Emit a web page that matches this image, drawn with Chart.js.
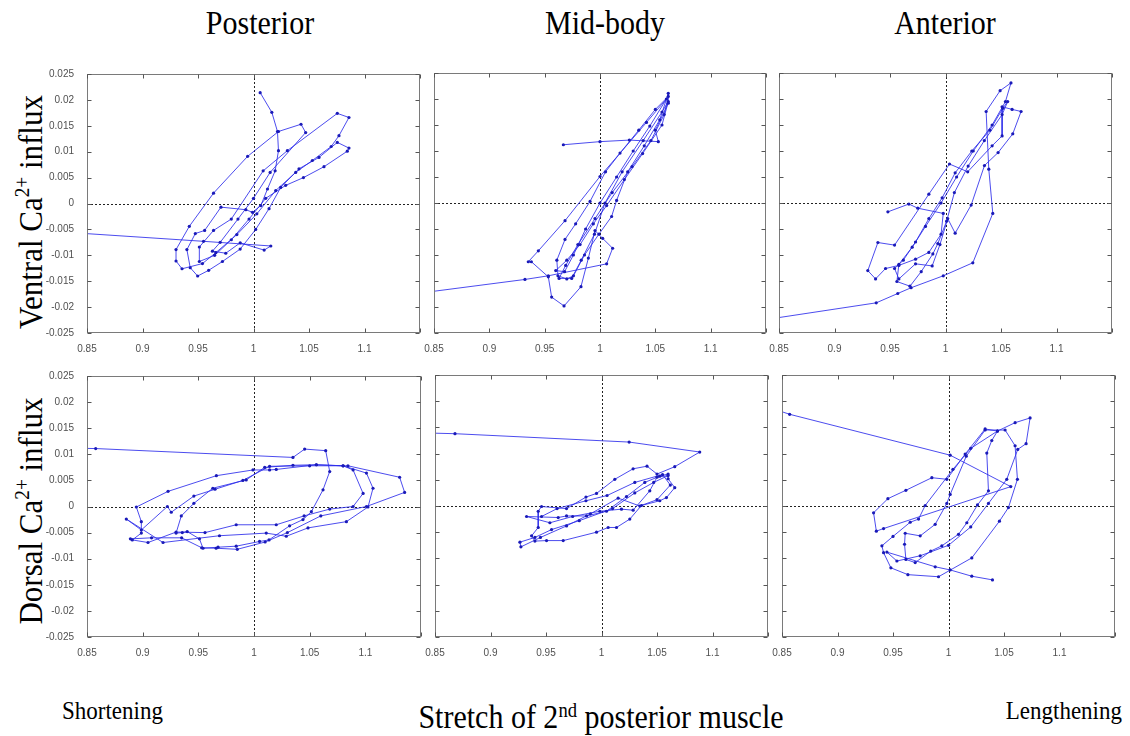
<!DOCTYPE html>
<html>
<head>
<meta charset="utf-8">
<script src="https://cdn.jsdelivr.net/npm/chart.js@4.4.1/dist/chart.umd.min.js"></script>
<style>
  body { margin: 0; background: #fff; }
  #page { position: relative; width: 1130px; height: 736px; overflow: hidden;
          font-family: "Liberation Serif", "Times New Roman", serif; color: #000; }
  canvas { position: absolute; }
  .txt { position: absolute; white-space: nowrap; line-height: 1; }
  .txt sup { font-size: 62%; vertical-align: 0; position: relative; top: -0.55em; }
  .mid { transform: translateX(-50%) scaleY(1.13); }
  .tall { transform: scaleY(1.13); }
  .rot { transform: translate(-50%, -50%) rotate(-90deg) scaleY(1.1); }
</style>
</head>
<body>
<div id="page">
  <div class="txt mid" style="left:260px; top:8px; font-size:30px">Posterior</div>
  <div class="txt mid" style="left:605px; top:8px; font-size:30px">Mid-body</div>
  <div class="txt mid" style="left:945px; top:8px; font-size:30px">Anterior</div>

  <div class="txt rot" style="left:30px; top:212px; font-size:31px">Ventral Ca<sup>2+</sup> influx</div>
  <div class="txt rot" style="left:30px; top:511px; font-size:31px">Dorsal Ca<sup>2+</sup> influx</div>

  <div class="txt tall" style="left:62px; top:699px; font-size:23px">Shortening</div>
  <div class="txt mid" style="left:601px; top:702px; font-size:30px">Stretch of 2<sup>nd</sup> posterior muscle</div>
  <div class="txt tall" style="right:8px; top:699px; font-size:23px">Lengthening</div>
</div>

<script>
// stretch (x) vs Ca2+ influx (y) trajectories, one per panel
const ventralPosterior = [
  [1.0060, 0.0214], [1.0165, 0.0176], [1.0216, 0.0139], [1.0225, 0.0102], [1.0195, 0.0063],
  [1.0126, 0.0028], [1.0066, -0.0004], [0.9991, -0.0017], [0.9931, -0.0012], [0.9707, -0.0007],
  [0.9560, -0.0052], [0.9476, -0.0058], [0.9400, -0.0089], [0.9430, -0.0124], [0.9497, -0.0140],
  [0.9596, -0.0129], [0.9720, -0.0112], [0.9880, -0.0088], [1.0020, -0.0050], [1.0140, -0.0010],
  [1.0245, 0.0031], [1.0410, 0.0067], [1.0590, 0.0089], [1.0755, 0.0118], [1.0860, 0.0107],
  [1.0845, 0.0101], [1.0635, 0.0071], [1.0450, 0.0050], [1.0290, 0.0035], [1.0110, 0.0010],
  [0.9960, -0.0030], [0.9800, -0.0070], [0.9650, -0.0100], [0.9512, -0.0112], [0.9512, -0.0084],
  [0.9640, -0.0052], [0.9800, -0.0030], [1.0087, 0.0063], [1.0305, 0.0102], [1.0755, 0.0174],
  [1.0860, 0.0166], [1.0770, 0.0131], [1.0700, 0.0110], [1.0530, 0.0083], [1.0380, 0.0060],
  [1.0200, 0.0025], [1.0030, -0.0020], [0.9850, -0.0060], [0.9660, -0.0095], [0.9540, -0.0116],
  [0.9356, -0.0126], [0.9302, -0.0111], [0.9302, -0.0089], [0.9422, -0.0044], [0.9640, 0.0020],
  [0.9947, 0.0091], [1.0225, 0.0139], [1.0428, 0.0153], [1.0470, 0.0137], [1.0150, 0.0060],
  [1.0000, 0.0010], [0.9860, -0.0030], [0.9700, -0.0075], [0.9630, -0.0092], [0.9750, -0.0096],
  [0.9880, -0.0076], [1.0096, -0.0090], [1.0156, -0.0082], [0.9550, -0.0073], [0.8200, -0.0054]
];

const ventralMidbody = [
  [0.9669, 0.0112], [1.0000, 0.0118], [1.0265, 0.0121], [1.0527, 0.0118], [1.0500, 0.0140],
  [1.0617, 0.0192], [1.0617, 0.0211], [1.0540, 0.0160], [1.0400, 0.0110], [1.0250, 0.0060],
  [1.0150, 0.0005], [1.0105, -0.0026], [0.9990, -0.0060], [0.9860, -0.0100], [0.9760, -0.0140],
  [0.9700, -0.0146], [0.9620, -0.0140], [0.9610, -0.0110], [0.9684, -0.0070], [0.9780, -0.0040],
  [0.9910, 0.0003], [1.0050, 0.0060], [1.0181, 0.0096], [1.0350, 0.0140], [1.0500, 0.0180],
  [1.0617, 0.0205], [1.0580, 0.0170], [1.0460, 0.0120], [1.0290, 0.0070], [1.0110, 0.0020],
  [0.9955, -0.0030], [0.9800, -0.0080], [0.9690, -0.0120], [0.9630, -0.0145], [0.9744, -0.0145],
  [0.9830, -0.0110], [0.9950, -0.0060], [1.0045, 0.0000], [1.0200, 0.0060], [1.0390, 0.0120],
  [1.0560, 0.0175], [1.0617, 0.0195], [1.0560, 0.0150], [1.0385, 0.0095], [1.0220, 0.0045],
  [1.0060, -0.0005], [0.9940, -0.0040], [0.9820, -0.0080], [0.9700, -0.0110], [0.9600, -0.0130],
  [0.9680, -0.0132], [0.9760, -0.0100], [0.9870, -0.0050], [1.0000, 0.0000], [1.0150, 0.0050],
  [1.0300, 0.0100], [1.0450, 0.0148], [1.0600, 0.0200], [1.0420, 0.0155], [1.0000, 0.0051],
  [0.9684, -0.0034], [0.9443, -0.0092], [0.9352, -0.0113], [0.9380, -0.0113], [0.9533, -0.0142],
  [0.9563, -0.0181], [0.9675, -0.0198], [0.9828, -0.0161], [0.9895, -0.0106], [0.9955, -0.0053],
  [1.0024, -0.0068], [1.0114, -0.0087], [1.0060, -0.0117], [0.9533, -0.0140], [0.9322, -0.0147],
  [0.8200, -0.0178]
];

const ventralAnterior = [
  [0.8200, -0.0230], [0.9376, -0.0192], [0.9570, -0.0174], [0.9690, -0.0163], [0.9980, -0.0140],
  [1.0246, -0.0115], [1.0426, -0.0020], [1.0390, 0.0065], [1.0366, 0.0176], [1.0492, 0.0216],
  [1.0590, 0.0231], [1.0540, 0.0195], [1.0420, 0.0150], [1.0250, 0.0100], [1.0100, 0.0050],
  [0.9960, 0.0000], [0.9820, -0.0045], [0.9700, -0.0085], [0.9580, -0.0118], [0.9562, -0.0151],
  [0.9680, -0.0160], [0.9781, -0.0132], [0.9886, -0.0098], [0.9931, -0.0078], [1.0010, -0.0035],
  [1.0080, 0.0020], [1.0204, 0.0071], [1.0350, 0.0120], [1.0510, 0.0170], [1.0560, 0.0195],
  [1.0516, 0.0182], [1.0400, 0.0140], [1.0237, 0.0100], [1.0087, 0.0058], [0.9970, 0.0010],
  [0.9850, -0.0030], [0.9730, -0.0075], [0.9620, -0.0110], [0.9541, -0.0126], [0.9580, -0.0146],
  [0.9730, -0.0117], [0.9880, -0.0121], [0.9950, -0.0080], [1.0020, -0.0030], [1.0087, -0.0058],
  [1.0231, -0.0004], [1.0351, 0.0072], [1.0474, 0.0097], [1.0606, 0.0133], [1.0681, 0.0176],
  [1.0600, 0.0180], [1.0510, 0.0185], [1.0510, 0.0129], [1.0420, 0.0110], [1.0200, 0.0060],
  [1.0036, 0.0075], [0.9850, 0.0017], [0.9541, -0.0081], [0.9391, -0.0076], [0.9300, -0.0130],
  [0.9370, -0.0146], [0.9460, -0.0126], [0.9580, -0.0120], [0.9730, -0.0108], [0.9850, -0.0095],
  [0.9960, -0.0060], [0.9980, -0.0020], [0.9750, -0.0010], [0.9670, -0.0002], [0.9481, -0.0017]
];

const dorsalPosterior = [
  [0.8300, 0.0112], [0.8578, 0.0111], [1.0350, 0.0094], [1.0455, 0.0110], [1.0644, 0.0107],
  [1.0680, 0.0067], [1.0620, 0.0032], [1.0515, -0.0010], [1.0440, -0.0025], [1.0320, -0.0037],
  [1.0135, -0.0064], [1.0050, -0.0067], [0.9840, -0.0076], [0.9677, -0.0078], [0.9542, -0.0080],
  [0.9510, -0.0062], [0.9400, -0.0048], [0.9356, -0.0050], [0.9300, -0.0051], [0.9347, -0.0018],
  [0.9460, 0.0006], [0.9630, 0.0035], [0.9930, 0.0051], [1.0096, 0.0075], [1.0350, 0.0079],
  [1.0560, 0.0080], [1.0800, 0.0078], [1.0890, 0.0070], [1.0980, 0.0025], [1.0890, 0.0000],
  [1.0680, -0.0005], [1.0450, -0.0018], [1.0200, -0.0035], [0.9840, -0.0035], [0.9560, -0.0050],
  [0.9300, -0.0049], [0.9048, -0.0069], [0.8907, -0.0064], [0.8988, -0.0051], [0.8988, -0.0029],
  [0.8943, -0.0001], [0.9228, 0.0029], [0.9662, 0.0059], [0.9991, 0.0070], [1.0140, 0.0070],
  [1.0200, 0.0071], [1.0560, 0.0080], [1.0800, 0.0078], [1.1010, 0.0064], [1.1069, 0.0035],
  [1.1024, -0.0001], [1.0830, -0.0029], [1.0485, -0.0041], [1.0290, -0.0057], [1.0110, -0.0051],
  [0.9690, -0.0056], [0.9183, -0.0069], [0.8853, -0.0024], [0.8988, -0.0045], [0.9222, 0.0000],
  [0.9257, -0.0011], [0.9460, 0.0020], [0.9650, 0.0033], [0.9900, 0.0050], [1.0140, 0.0077],
  [1.0500, 0.0078], [1.0844, 0.0078], [1.1308, 0.0056], [1.1353, 0.0027], [1.1010, 0.0000],
  [1.0600, -0.0018], [1.0300, -0.0050], [1.0100, -0.0068], [0.9850, -0.0082], [0.9660, -0.0080],
  [0.9530, -0.0079], [0.9350, -0.0060], [0.9080, -0.0060], [0.8890, -0.0062]
];

const dorsalMidbody = [
  [0.8300, 0.0140], [0.8680, 0.0138], [1.0249, 0.0122], [1.0885, 0.0103], [1.0660, 0.0075],
  [1.0500, 0.0061], [1.0410, 0.0076], [1.0285, 0.0071], [1.0120, 0.0051], [0.9955, 0.0024],
  [0.9860, 0.0017], [0.9685, -0.0005], [0.9460, -0.0001], [0.9430, -0.0010], [0.9430, -0.0041],
  [0.9370, -0.0057], [0.9400, -0.0067], [0.9505, -0.0066], [0.9655, -0.0066], [0.9955, -0.0050],
  [1.0060, -0.0041], [1.0135, -0.0041], [1.0255, -0.0025], [1.0360, 0.0001], [1.0525, 0.0010],
  [1.0585, 0.0016], [1.0660, 0.0035], [1.0600, 0.0052], [1.0600, 0.0061], [1.0525, 0.0057],
  [1.0390, 0.0045], [1.0225, 0.0018], [1.0045, -0.0010], [0.9865, -0.0019], [0.9685, -0.0019],
  [0.9610, -0.0022], [0.9325, -0.0020], [0.9535, -0.0032], [0.9740, -0.0020], [0.9985, -0.0010],
  [1.0180, -0.0006], [1.0285, -0.0008], [1.0435, 0.0029], [1.0500, 0.0055], [1.0600, 0.0058],
  [1.0470, 0.0045], [1.0300, 0.0025], [1.0100, -0.0005], [0.9800, -0.0028], [0.9550, -0.0045],
  [0.9400, -0.0060], [0.9265, -0.0069], [0.9274, -0.0078], [0.9450, -0.0060], [0.9685, -0.0038],
  [0.9900, -0.0015], [1.0150, 0.0015], [1.0345, 0.0000], [1.0500, 0.0012], [1.0620, 0.0040],
  [1.0550, 0.0060], [1.0300, 0.0045], [1.0050, 0.0020], [0.9860, 0.0010], [0.9600, -0.0005],
  [0.9460, -0.0020]
];

const dorsalAnterior = [
  [0.8300, 0.0194], [0.8569, 0.0175], [1.0015, 0.0097], [1.0561, 0.0037], [0.9415, -0.0043],
  [0.9350, -0.0048], [0.9325, -0.0013], [0.9454, 0.0014], [0.9616, 0.0030], [0.9850, 0.0054],
  [0.9985, 0.0051], [1.0150, 0.0099], [1.0330, 0.0147], [1.0441, 0.0143], [1.0390, 0.0125],
  [1.0345, 0.0101], [1.0360, 0.0029], [1.0261, 0.0002], [1.0165, -0.0032], [1.0090, -0.0054],
  [0.9940, -0.0076], [0.9840, -0.0086], [0.9700, -0.0108], [0.9616, -0.0102], [0.9604, -0.0073],
  [0.9610, -0.0052], [0.9745, -0.0057], [0.9880, -0.0035], [0.9985, 0.0005], [1.0015, 0.0022],
  [1.0160, 0.0095], [1.0330, 0.0145], [1.0510, 0.0145], [1.0600, 0.0115], [1.0621, 0.0051],
  [1.0540, -0.0003], [1.0459, -0.0029], [1.0210, -0.0099], [0.9910, -0.0135], [0.9634, -0.0131],
  [0.9481, -0.0118], [0.9415, -0.0089], [0.9400, -0.0076], [0.9500, -0.0058], [0.9655, -0.0031],
  [0.9730, -0.0025], [0.9790, 0.0001], [1.0040, 0.0070], [1.0200, 0.0110], [1.0441, 0.0143],
  [1.0600, 0.0159], [1.0735, 0.0168], [1.0699, 0.0119], [1.0624, 0.0108], [1.0525, 0.0051],
  [1.0360, 0.0005], [1.0200, -0.0040], [1.0000, -0.0075], [0.9745, -0.0095], [0.9535, -0.0105],
  [0.9445, -0.0088], [0.9880, -0.0116], [1.0015, -0.0122], [1.0210, -0.0134], [1.0396, -0.0141]
];

// axis ticks and their labels
const stretchTicks = [0.85, 0.9, 0.95, 1, 1.05, 1.1, 1.15];
const stretchLabels = ['0.85', '0.9', '0.95', '1', '1.05', '1.1', ''];
const caTicks = [-0.025, -0.02, -0.015, -0.01, -0.005, 0, 0.005, 0.01, 0.015, 0.02, 0.025];
const caLabels = ['-0.025', '-0.02', '-0.015', '-0.01', '-0.005', '0', '0.005', '0.01', '0.015', '0.02', '0.025'];

// plot boxes [left, top, right, bottom] in page pixels
const panels = [
  { data: ventralPosterior, box: [87, 73, 420, 333], col: 0 },
  { data: ventralMidbody,   box: [434, 73, 766, 333], col: 1 },
  { data: ventralAnterior,  box: [779, 73, 1112, 333], col: 2 },
  { data: dorsalPosterior,  box: [87, 375, 421, 637], col: 0 },
  { data: dorsalMidbody,    box: [435, 375, 768, 637], col: 1 },
  { data: dorsalAnterior,   box: [782, 375, 1115, 637], col: 2 }
];

const YAXIS_W = 60, XAXIS_H = 25, PAD_T = 10, PAD_R = 10;

// dotted zero lines, grey box and inward tick marks on all four sides
const frame = {
  id: 'frame',
  beforeDatasetsDraw(chart) {
    const { ctx, chartArea: a, scales: { x, y } } = chart;
    const px = Math.round(x.getPixelForValue(1)) + 0.5;
    const py = Math.round(y.getPixelForValue(0)) + 0.5;
    ctx.save();
    ctx.strokeStyle = '#222';
    ctx.lineWidth = 1;
    ctx.setLineDash([2, 2]);
    ctx.beginPath();
    ctx.moveTo(px, a.top); ctx.lineTo(px, a.bottom);
    ctx.moveTo(a.left, py); ctx.lineTo(a.right, py);
    ctx.stroke();
    ctx.restore();
  },
  afterDatasetsDraw(chart) {
    const { ctx, chartArea: a, scales: { x, y } } = chart;
    const l = Math.round(a.left) + 0.5, r = Math.round(a.right) - 0.5;
    const t = Math.round(a.top) + 0.5, b = Math.round(a.bottom) - 0.5;
    ctx.save();
    ctx.strokeStyle = '#7a7a7a';
    ctx.lineWidth = 1;
    ctx.strokeRect(l, t, r - l, b - t);
    ctx.strokeStyle = '#555';
    ctx.beginPath();
    x.ticks.forEach(tk => {
      const p = Math.round(x.getPixelForValue(tk.value)) + 0.5;
      ctx.moveTo(p, b); ctx.lineTo(p, b - 4);
      ctx.moveTo(p, t); ctx.lineTo(p, t + 4);
    });
    y.ticks.forEach(tk => {
      const p = Math.round(y.getPixelForValue(tk.value)) + 0.5;
      ctx.moveTo(l, p); ctx.lineTo(l + 4, p);
      ctx.moveTo(r, p); ctx.lineTo(r - 4, p);
    });
    ctx.stroke();
    ctx.restore();
  }
};

const page = document.getElementById('page');

panels.forEach(p => {
  const [L, T, R, B] = p.box;
  const canvas = document.createElement('canvas');
  canvas.width = (R - L) + YAXIS_W + PAD_R;
  canvas.height = (B - T) + PAD_T + XAXIS_H;
  canvas.style.left = (L - YAXIS_W) + 'px';
  canvas.style.top = (T - PAD_T) + 'px';
  page.appendChild(canvas);

  new Chart(canvas.getContext('2d'), {
    type: 'scatter',
    data: {
      datasets: [{
        data: p.data.map(([x, y]) => ({ x, y })),
        showLine: true,
        borderColor: 'rgba(45, 45, 235, 0.85)',
        borderWidth: 1,
        pointRadius: 1.6,
        pointBackgroundColor: '#1a1ab8',
        pointBorderWidth: 0,
        tension: 0
      }]
    },
    options: {
      responsive: false,
      animation: false,
      devicePixelRatio: 1,
      layout: { padding: { top: PAD_T, right: PAD_R, left: 0, bottom: 0 } },
      plugins: { legend: { display: false }, tooltip: { enabled: false } },
      scales: {
        x: {
          type: 'linear',
          min: 0.85,
          max: 1.15,
          afterBuildTicks: s => { s.ticks = stretchTicks.map(v => ({ value: v })); },
          afterFit: s => { s.height = XAXIS_H; },
          grid: { display: false },
          border: { display: false },
          ticks: {
            callback: (v, i) => stretchLabels[i],
            font: { family: 'Liberation Sans', size: 10 },
            color: '#505050',
            padding: 2,
            maxRotation: 0,
            autoSkip: false
          }
        },
        y: {
          type: 'linear',
          min: -0.025,
          max: 0.025,
          afterBuildTicks: s => { s.ticks = caTicks.map(v => ({ value: v })); },
          afterFit: s => { s.width = YAXIS_W; },
          grid: { display: false },
          border: { display: false },
          ticks: {
            display: p.col === 0,
            callback: (v, i) => caLabels[i],
            font: { family: 'Liberation Sans', size: 10 },
            color: '#505050',
            padding: 5,
            autoSkip: false
          }
        }
      }
    },
    plugins: [frame]
  });
});
</script>
</body>
</html>
